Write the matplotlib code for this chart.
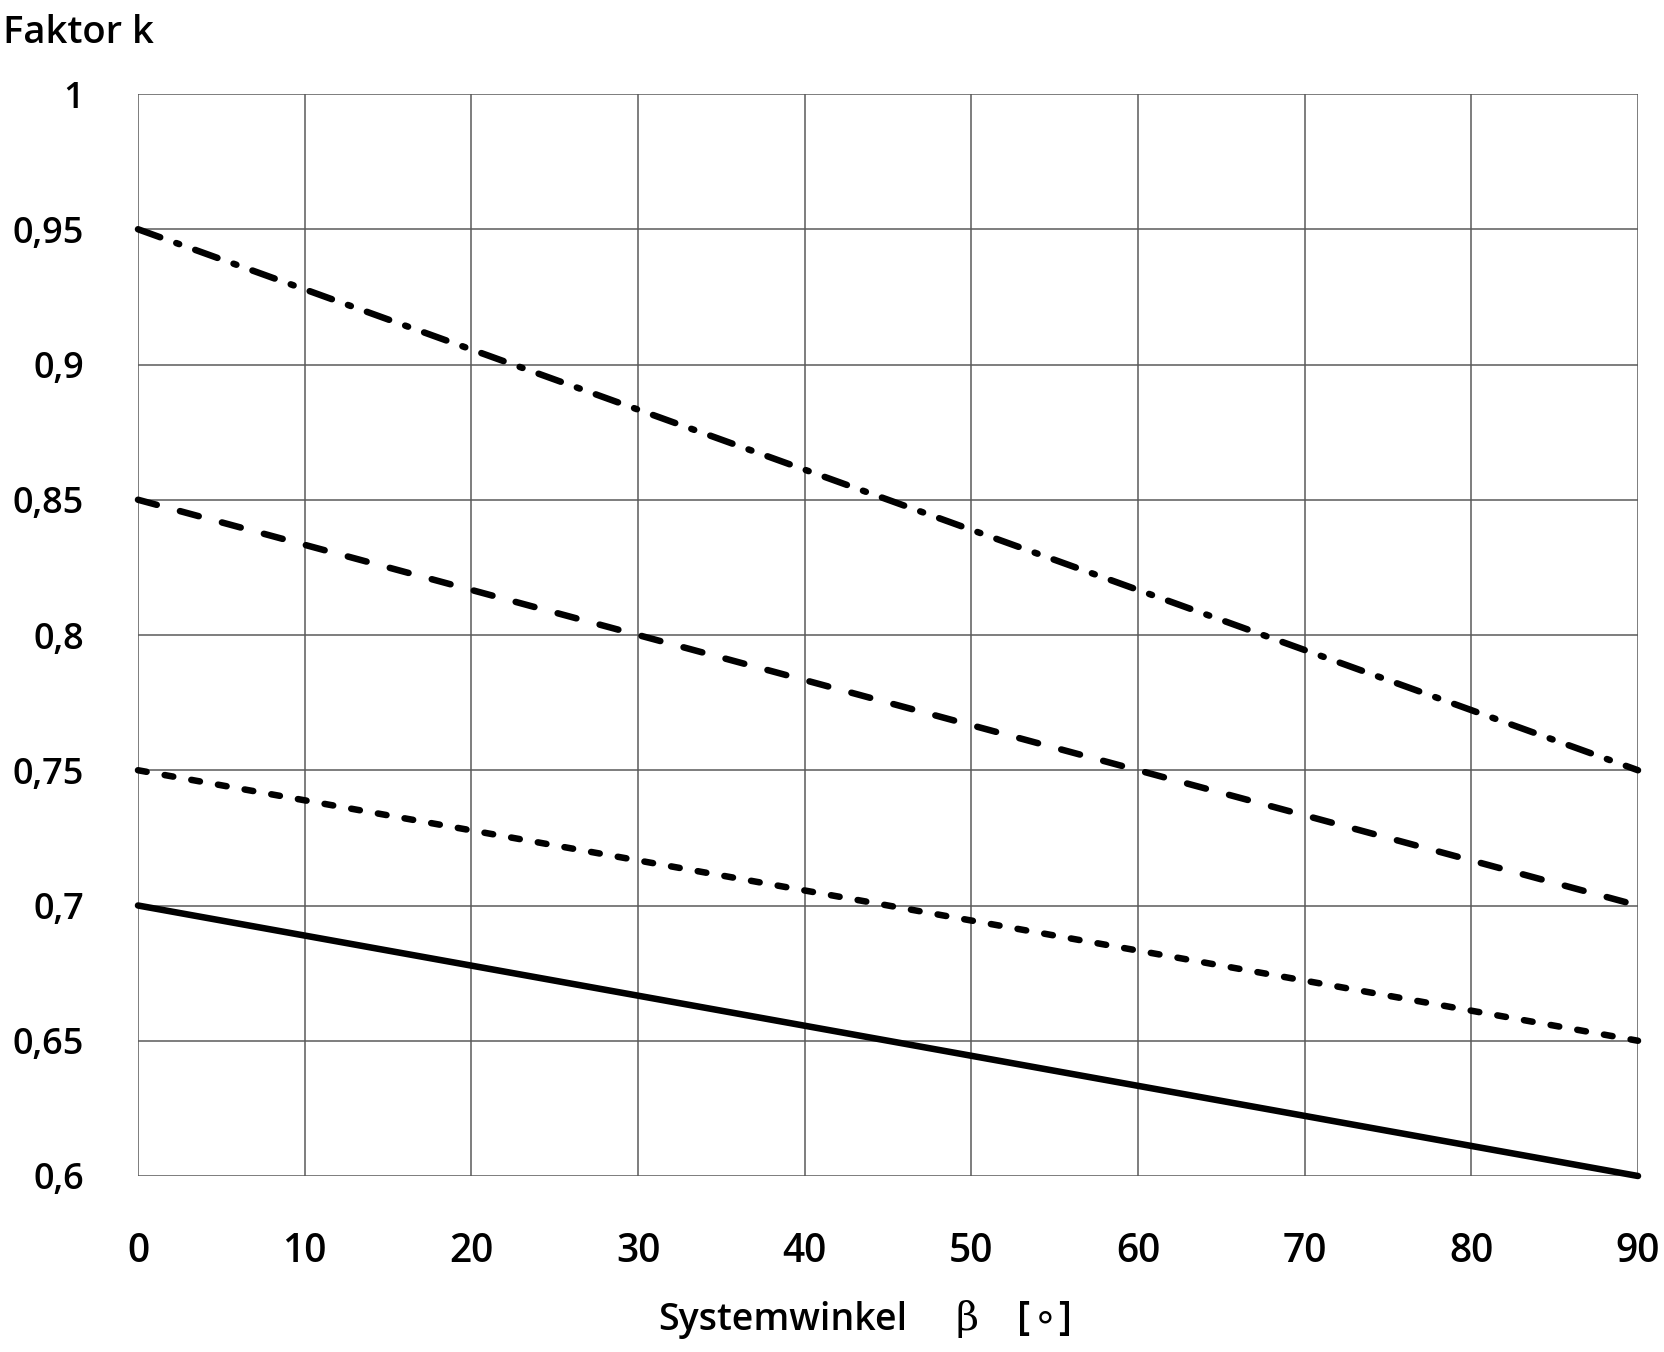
import matplotlib
matplotlib.use("Agg")
import matplotlib.pyplot as plt

plt.rcParams['font.family'] = ['Open Sans', 'DejaVu Sans']
plt.rcParams['lines.scale_dashes'] = False

WEIGHT = 'semibold'

# Data
beta = [0, 90]
k_solid = [0.70, 0.60]
k_short = [0.75, 0.65]
k_dashed = [0.85, 0.70]
k_dashdot = [0.95, 0.75]

x_ticks = [0, 10, 20, 30, 40, 50, 60, 70, 80, 90]
x_tick_labels = ['0', '10', '20', '30', '40', '50', '60', '70', '80', '90']
y_ticks = [0.6, 0.65, 0.7, 0.75, 0.8, 0.85, 0.9, 0.95, 1.0]
y_tick_labels = ['0,6', '0,65', '0,7', '0,75', '0,8', '0,85', '0,9', '0,95', '1']

W, H = 1664, 1352
fig = plt.figure(figsize=(W / 100, H / 100), dpi=100)
ax = fig.add_axes([138 / W, 1 - 1176 / H, 1500 / W, (1176 - 94) / H])

ax.set_xlim(0, 90)
ax.set_ylim(0.6, 1.0)
ax.set_xticks(x_ticks)
ax.set_xticklabels(x_tick_labels, fontsize=28, fontweight=WEIGHT)
ax.set_yticks(y_ticks)
ax.set_yticklabels(y_tick_labels, fontsize=26, fontweight=WEIGHT)
ax.tick_params(axis='both', length=0)
ax.tick_params(axis='x', pad=40)
ax.tick_params(axis='y', pad=39)
for s in ax.spines.values():
    s.set_visible(False)
ax.grid(True, color='#5a5a5a', linewidth=1.1)
ax.set_axisbelow(True)

lw = 4.7
ax.plot(beta, k_solid, color='black', lw=lw, solid_capstyle='round', clip_on=False)
l1, = ax.plot(beta, k_short, color='black', lw=lw, clip_on=False)
l1.set_dashes((6.3, 13.2))
l1.set_dash_capstyle('round')
l2, = ax.plot(beta, k_dashed, color='black', lw=lw, clip_on=False)
l2.set_dashes((14.0, 17.3))
l2.set_dash_capstyle('round')
l3, = ax.plot(beta, k_dashdot, color='black', lw=lw, clip_on=False)
l3.set_dashes((17.0, 12.3, 2.2, 12.3))
l3.set_dash_capstyle('round')

# Titles / labels
fig.text(3 / W, 1 - 43 / H, 'Faktor k', fontsize=27.5, ha='left', va='baseline',
         fontweight=WEIGHT)
fig.text(658 / W, 1 - 1330 / H, 'Systemwinkel', fontsize=27, ha='left', va='baseline',
         fontweight=WEIGHT)
fig.text(955 / W, 1 - 1330 / H, 'β', fontsize=28.5, ha='left', va='baseline',
         family=['DejaVu Serif'])
fig.text(1017 / W, 1 - 1330 / H, '[', fontsize=28.5, ha='left', va='baseline',
         fontweight=WEIGHT)
fig.text(1045 / W, 1 - 1330 / H, '∘', fontsize=28.5, ha='center', va='baseline',
         family=['DejaVu Sans'])
fig.text(1071 / W, 1 - 1330 / H, ']', fontsize=28.5, ha='right', va='baseline',
         fontweight=WEIGHT)

fig.savefig('out.png', dpi=100, facecolor='white')
